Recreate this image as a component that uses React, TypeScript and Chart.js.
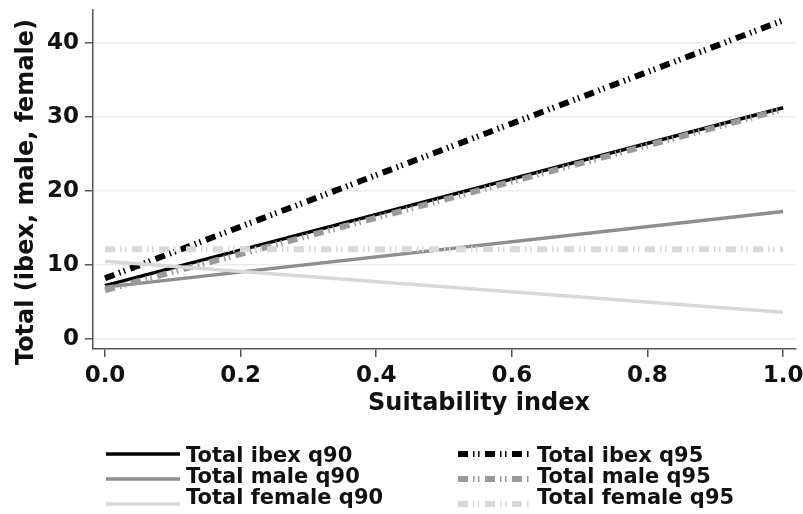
import React, { useEffect, useRef } from 'react';
import { Chart, registerables } from 'chart.js';

Chart.register(...registerables);

// ---- data ----
const xValues = [0, 1];
const ibexQ90 = [7.2, 31.2];
const ibexQ95 = [8.2, 43.0];
const maleQ90 = [7.0, 17.2];
const maleQ95 = [6.6, 31.0];
const femaleQ90 = [10.5, 3.6];
const femaleQ95 = [12.1, 12.1];

const seriesLabels = [
  'Total ibex q90',
  'Total ibex q95',
  'Total male q90',
  'Total male q95',
  'Total female q90',
  'Total female q95',
];
const xTickValues = [0, 0.2, 0.4, 0.6, 0.8, 1.0];
const yTickValues = [0, 10, 20, 30, 40];
const xAxisTitle = 'Suitability index';
const yAxisTitle = 'Total (ibex, male, female)';

// ---- styles ----
const FONT = '"DejaVu Sans", "Liberation Sans", Arial, sans-serif';
const BLACK = '#000000';
const MALE = '#8e8e8e';
const MALE_DASH = '#9a9a9a';
const FEMALE = '#d8d8d8';
const AXIS = '#555555';
const q95Dash = [10, 5, 1.5, 3.5, 1.5, 5.5];

const toPoints = (ys: number[]) => xValues.map((x, i) => ({ x, y: ys[i] }));

const decorPlugin = {
  id: 'decor',
  afterDraw(chart: any) {
    const ctx = chart.ctx as CanvasRenderingContext2D;
    ctx.save();
    ctx.fillStyle = '#111111';
    ctx.font = `bold 24px ${FONT}`;
    ctx.textAlign = 'center';
    ctx.textBaseline = 'alphabetic';
    ctx.fillText(xAxisTitle, 479, 410);
    ctx.save();
    ctx.translate(33, 192);
    ctx.rotate(-Math.PI / 2);
    ctx.fillText(yAxisTitle, 0, 0);
    ctx.restore();

    // legend: two columns, three rows
    const cols = [
      { x0: 106, x1: 180, tx: 186, idx: [0, 2, 4] },
      { x0: 458, x1: 531, tx: 537, idx: [1, 3, 5] },
    ];
    const lineYs = [454, 479, 504];
    const textYs = [461.5, 482.5, 504];
    ctx.font = `bold 21px ${FONT}`;
    ctx.textAlign = 'left';
    cols.forEach((c) => {
      c.idx.forEach((di, r) => {
        const ds = chart.data.datasets[di];
        ctx.save();
        ctx.strokeStyle = ds.borderColor;
        ctx.lineWidth = ds.borderWidth;
        ctx.lineCap = 'butt';
        ctx.setLineDash(ds.borderDash || []);
        ctx.beginPath();
        ctx.moveTo(c.x0, lineYs[r]);
        ctx.lineTo(c.x1, lineYs[r]);
        ctx.stroke();
        ctx.restore();
        ctx.fillStyle = '#111111';
        ctx.fillText(ds.label, c.tx, textYs[r]);
      });
    });
    ctx.restore();
  },
};

export default function App() {
  const ref = useRef<HTMLCanvasElement | null>(null);

  useEffect(() => {
    if (!ref.current) return;
    const mk = (i: number, ys: number[], color: string, width: number, dash: number[] | undefined) => ({
      label: seriesLabels[i],
      data: toPoints(ys),
      borderColor: color,
      backgroundColor: color,
      borderWidth: width,
      borderDash: dash,
      borderCapStyle: 'butt',
      pointRadius: 0,
      fill: false,
      tension: 0,
      order: 6 - i,
    });
    const chart = new Chart(ref.current, {
      type: 'line',
      data: {
        datasets: [
          mk(0, ibexQ90, BLACK, 3.5, undefined),
          mk(1, ibexQ95, BLACK, 6, q95Dash),
          mk(2, maleQ90, MALE, 3.5, undefined),
          mk(3, maleQ95, MALE_DASH, 6, q95Dash),
          mk(4, femaleQ90, FEMALE, 3.5, undefined),
          mk(5, femaleQ95, FEMALE, 6, q95Dash),
        ] as any,
      },
      options: {
        responsive: false,
        animation: false,
        devicePixelRatio: 1,
        layout: { padding: { left: 0, right: 7, top: 10, bottom: 80 } },
        plugins: {
          legend: { display: false },
          tooltip: { enabled: false },
        },
        scales: {
          x: {
            type: 'linear',
            min: -0.0177,
            max: 1.019,
            afterBuildTicks: (s: any) => {
              s.ticks = xTickValues.map((v) => ({ value: v }));
            },
            afterFit: (s: any) => {
              s.height = 85;
              s.paddingLeft = 0;
              s.paddingRight = 0;
            },
            ticks: {
              color: '#111111',
              font: { family: FONT, size: 23, weight: 'bold' },
              padding: 5,
              maxRotation: 0,
              autoSkip: false,
              callback: (v: any) => Number(v).toFixed(1),
            },
            grid: {
              drawOnChartArea: false,
              drawTicks: true,
              tickLength: 8,
              tickColor: AXIS,
              lineWidth: 1.5,
            },
            border: { display: true, color: AXIS, width: 1.5 },
          },
          y: {
            type: 'linear',
            min: -1.35,
            max: 44.4,
            afterBuildTicks: (s: any) => {
              s.ticks = yTickValues.map((v) => ({ value: v }));
            },
            afterFit: (s: any) => {
              s.width = 93;
              s.paddingTop = 0;
              s.paddingBottom = 0;
            },
            ticks: {
              color: '#111111',
              font: { family: FONT, size: 23, weight: 'bold' },
              padding: 6,
              autoSkip: false,
              callback: (v: any) => String(v),
            },
            grid: {
              color: '#ececec',
              lineWidth: 1.5,
              drawTicks: true,
              tickLength: 8,
              tickColor: AXIS,
            },
            border: { display: true, color: AXIS, width: 1.5 },
          },
        },
      } as any,
      plugins: [decorPlugin],
    });
    return () => chart.destroy();
  }, []);

  return (
    <div style={{ position: 'absolute', left: 0, top: 0, width: 803, height: 514 }}>
      <canvas ref={ref} width={803} height={514} style={{ display: 'block' }} />
    </div>
  );
}
